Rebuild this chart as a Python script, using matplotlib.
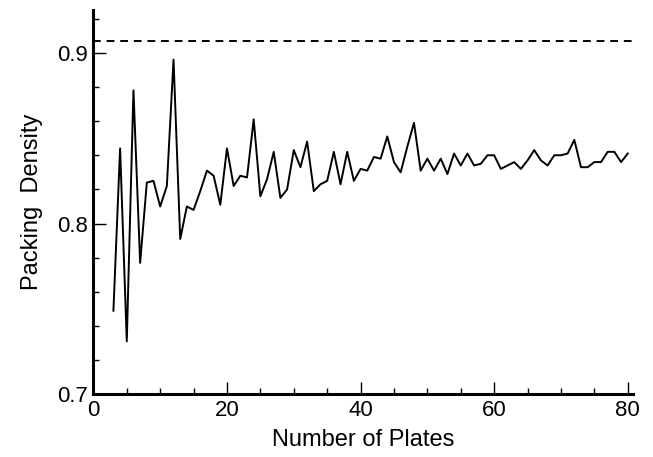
import numpy as np
import matplotlib
matplotlib.use("Agg")
import matplotlib.pyplot as plt
from matplotlib.ticker import MultipleLocator

plt.rcParams['font.family'] = ['Liberation Sans', 'DejaVu Sans']

plates = list(range(3, 81))
density = [
    0.749, 0.844, 0.731, 0.878, 0.777, 0.824, 0.825, 0.810, 0.822, 0.896,  # 3-12
    0.791, 0.810, 0.808, 0.819, 0.831, 0.828, 0.811, 0.844, 0.822, 0.828,  # 13-22
    0.827, 0.861, 0.816, 0.826, 0.842, 0.815, 0.820, 0.843, 0.833, 0.848,  # 23-32
    0.819, 0.823, 0.825, 0.842, 0.823, 0.842, 0.825, 0.832, 0.831, 0.839,  # 33-42
    0.838, 0.851, 0.836, 0.830, 0.845, 0.859, 0.831, 0.838, 0.831, 0.838,  # 43-52
    0.829, 0.841, 0.834, 0.841, 0.834, 0.835, 0.840, 0.840, 0.832, 0.834,  # 53-62
    0.836, 0.832, 0.837, 0.843, 0.837, 0.834, 0.840, 0.840, 0.841, 0.849,  # 63-72
    0.833, 0.833, 0.836, 0.836, 0.842, 0.842, 0.836, 0.841,              # 73-80
]
hex_limit = np.pi / (2 * np.sqrt(3))

x_major = [0, 20, 40, 60, 80]
x_minor = [5, 10, 15, 25, 30, 35, 45, 50, 55, 65, 70, 75]
y_major = [0.7, 0.8, 0.9]
y_labels = ['0.7', '0.8', '0.9']

fig = plt.figure(figsize=(6.53, 4.57), dpi=100)
ax = fig.add_axes([0.143, 0.137, 0.826, 0.841])

ax.plot(plates, density, color='black', lw=1.4)
ax.axhline(hex_limit, color='black', lw=1.4, ls=(0, (4, 3)))

ax.set_xlim(0, 80.75)
ax.set_ylim(0.7, 0.925)

ax.set_xticks(x_major)
ax.set_xticklabels([str(v) for v in x_major])
ax.set_xticks(x_minor, minor=True)
ax.set_yticks(y_major)
ax.set_yticklabels(y_labels)
ax.yaxis.set_minor_locator(MultipleLocator(0.02))

for s in ['top', 'right']:
    ax.spines[s].set_visible(False)
for s in ['left', 'bottom']:
    ax.spines[s].set_linewidth(2.2)

ax.tick_params(axis='both', which='major', direction='in', length=9, width=1.0,
               labelsize=16, pad=4)
ax.tick_params(axis='both', which='minor', direction='in', length=4, width=1.0)

ax.set_xlabel('Number of Plates', fontsize=17, labelpad=6)
ax.set_ylabel('Packing  Density', fontsize=17, labelpad=10)

fig.savefig('out.png', dpi=100)
